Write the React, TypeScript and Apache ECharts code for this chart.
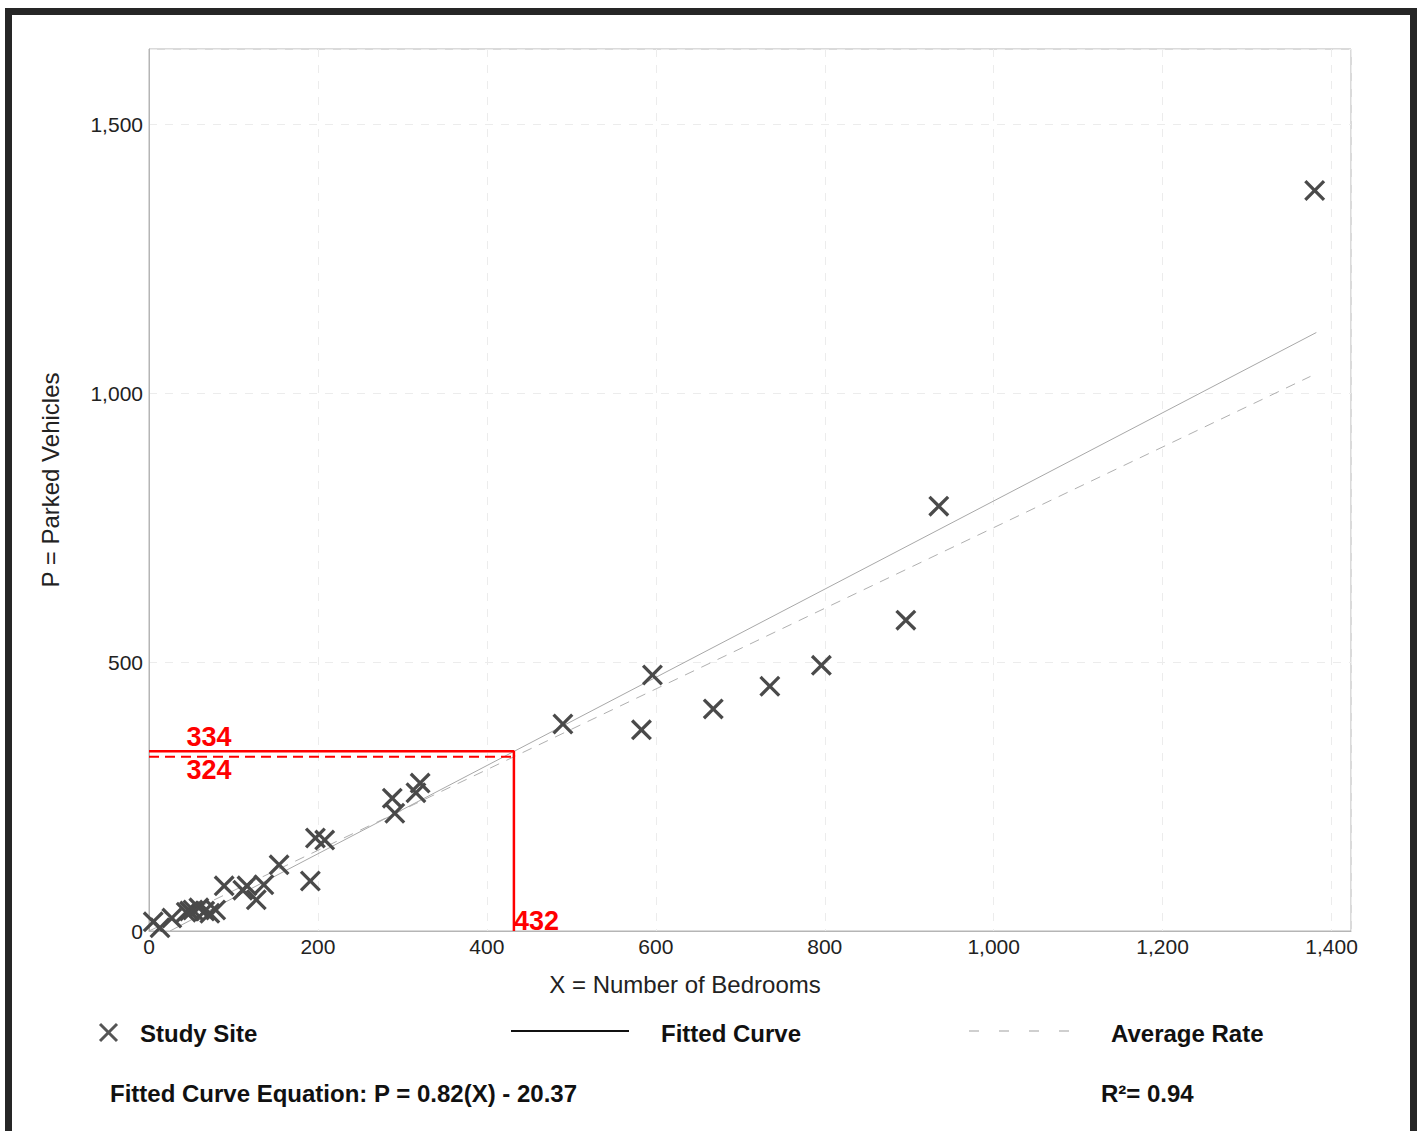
import React, { useEffect, useRef } from "react";
import * as echarts from "echarts";

// ---- data ----
const siteX = [5, 13, 27, 44, 48, 52, 59, 66, 72, 79, 89, 111, 116, 127, 136, 154, 191, 197, 208, 288, 291, 316, 321, 490, 583, 596, 668, 735, 796, 896, 935, 1380];
const siteY = [17, 6, 24, 35, 37, 39, 43, 37, 33, 39, 84, 76, 84, 58, 86, 123, 93, 173, 169, 247, 219, 257, 275, 385, 374, 476, 413, 455, 494, 578, 790, 1377];
const fitSlope = 0.82;
const fitIntercept = -20.37;
const avgRate = 0.75;
const fitRange = [25, 1382];
const avgRange = [0, 1375];
const designX = 432;
const designFit = 334;
const designAvg = 324;
const rSquared = 0.94;
const xTickStep = 200;
const yTickStep = 500;
const xMax = 1423;
const yMax = 1640;

const X_PATH = "path://M0,11L11,0L50,39L89,0L100,11L61,50L100,89L89,100L50,61L11,100L0,89L39,50Z";
const FONT = "Liberation Sans, Arial, sans-serif";

export default function App() {
  const ref = useRef<HTMLDivElement>(null);
  useEffect(() => {
    if (!ref.current) return;
    const chart = echarts.init(ref.current, undefined, { renderer: "svg" });
    const points = siteX.map((x, i) => [x, siteY[i]]);
    const fitLine = fitRange.map((x) => [x, fitSlope * x + fitIntercept]);
    const avgLine = avgRange.map((x) => [x, avgRate * x]);
    const labelX = 71;
    const fmt = (step: number) => (v: number) => (v % step === 0 ? v.toLocaleString("en-US") : "");
    const redLabel = { color: "#ff0000", fontSize: 27, fontWeight: "bold", fontFamily: FONT, textBorderWidth: 0 };
    chart.setOption({
      animation: false,
      backgroundColor: "#ffffff",
      textStyle: { fontFamily: FONT },
      grid: { left: 149, right: 70, top: 49, bottom: 200, show: true, borderColor: "#b5b5b5", borderWidth: 1 },
      xAxis: {
        type: "value",
        min: 0,
        max: xMax,
        interval: xTickStep,
        name: "X = Number of Bedrooms",
        nameLocation: "middle",
        nameGap: 41,
        nameTextStyle: { fontSize: 24, color: "#222", fontFamily: FONT, padding: [0, 130, 0, 0] },
        axisLine: { show: true, lineStyle: { color: "#b5b5b5" } },
        axisTick: { show: false },
        axisLabel: { fontSize: 21, color: "#222", margin: 5, formatter: fmt(xTickStep), fontFamily: FONT },
        splitLine: { show: true, lineStyle: { color: "#ececec", type: [8, 8] } },
      },
      yAxis: {
        type: "value",
        min: 0,
        max: yMax,
        interval: yTickStep,
        name: "P = Parked Vehicles",
        nameLocation: "middle",
        nameGap: 87,
        nameTextStyle: { fontSize: 24, color: "#222", fontFamily: FONT, padding: [0, 0, 0, 20] },
        axisLine: { show: true, lineStyle: { color: "#b5b5b5" } },
        axisTick: { show: false },
        axisLabel: { fontSize: 21, color: "#222", margin: 6, formatter: fmt(yTickStep), fontFamily: FONT },
        splitLine: { show: true, lineStyle: { color: "#ececec", type: [8, 8] } },
      },
      series: [
        {
          name: "Fitted Curve",
          type: "line",
          data: fitLine,
          symbol: "none",
          lineStyle: { color: "#a8a8a8", width: 1 },
          z: 2,
        },
        {
          name: "Average Rate",
          type: "line",
          data: avgLine,
          symbol: "none",
          lineStyle: { color: "#b0b0b0", width: 1, type: [10, 8] },
          z: 2,
        },
        {
          name: "Study Site",
          type: "scatter",
          data: points,
          symbol: X_PATH,
          symbolSize: 21,
          itemStyle: { color: "#4a4a4a", opacity: 1 },
          z: 3,
        },
        {
          name: "design-fit",
          type: "line",
          data: [[0, designFit], [designX, designFit], [designX, 0]],
          symbol: "none",
          lineStyle: { color: "#ff0000", width: 2.5 },
          z: 4,
        },
        {
          name: "design-avg",
          type: "line",
          data: [[0, designAvg], [designX, designAvg]],
          symbol: "none",
          lineStyle: { color: "#ff0000", width: 2, type: [10, 6] },
          z: 4,
        },
        {
          name: "annotations",
          type: "scatter",
          symbolSize: 0,
          silent: true,
          z: 5,
          itemStyle: { color: "#ff0000", opacity: 1 },
          label: { show: true, ...redLabel },
          data: [
            { value: [labelX, designFit], label: { position: "top", distance: 1, formatter: String(designFit), ...redLabel } },
            { value: [labelX, designAvg], label: { position: "bottom", distance: 0, formatter: String(designAvg), ...redLabel } },
            { value: [designX, 0], label: { position: "right", distance: 0, offset: [0, -10], formatter: String(designX), ...redLabel } },
          ],
        },
      ],
      graphic: [
        { type: "rect", shape: { x: 8.5, y: 11.5, width: 1405, height: 1200 }, style: { fill: "none", stroke: "#262626", lineWidth: 7 }, silent: true },
        // legend: Study Site
        { type: "line", shape: { x1: 100, y1: 1024, x2: 117, y2: 1041 }, style: { stroke: "#555", lineWidth: 3 } },
        { type: "line", shape: { x1: 100, y1: 1041, x2: 117, y2: 1024 }, style: { stroke: "#555", lineWidth: 3 } },
        { type: "text", x: 140, y: 1033, style: { text: "Study Site", font: `bold 24px ${FONT}`, fill: "#111", verticalAlign: "middle" } },
        // legend: Fitted Curve
        { type: "line", shape: { x1: 511, y1: 1031, x2: 629, y2: 1031 }, style: { stroke: "#111", lineWidth: 2 } },
        { type: "text", x: 661, y: 1033, style: { text: "Fitted Curve", font: `bold 24px ${FONT}`, fill: "#111", verticalAlign: "middle" } },
        // legend: Average Rate
        { type: "line", shape: { x1: 969, y1: 1031, x2: 1071, y2: 1031 }, style: { stroke: "#c0c0c0", lineWidth: 1.5, lineDash: [10, 20] } },
        { type: "text", x: 1111, y: 1033, style: { text: "Average Rate", font: `bold 24px ${FONT}`, fill: "#111", verticalAlign: "middle" } },
        // equation
        { type: "text", x: 110, y: 1093, style: { text: `Fitted Curve Equation: P = ${fitSlope}(X) - ${Math.abs(fitIntercept)}`, font: `bold 24px ${FONT}`, fill: "#111", verticalAlign: "middle" } },
        { type: "text", x: 1101, y: 1093, style: { text: `R²= ${rSquared}`, font: `bold 24px ${FONT}`, fill: "#111", verticalAlign: "middle" } },
      ],
    });
    return () => chart.dispose();
  }, []);
  return (
    <div
      ref={ref}
      style={{ position: "absolute", left: 0, top: 0, width: 1421, height: 1131, background: "#fff" }}
    />
  );
}
